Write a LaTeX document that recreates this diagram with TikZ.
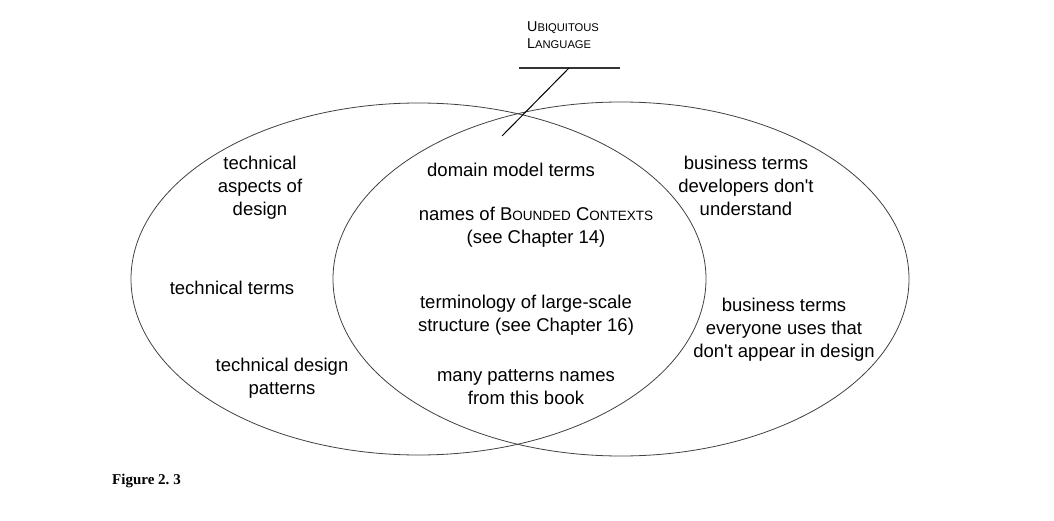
\documentclass[tikz,border=0pt]{standalone}
\usepackage{fontspec}
\setmainfont{Liberation Sans}[Ligatures=TeXOff]
\newfontfamily\figfont{Liberation Serif}
\newcommand{\fsc}[2]{#1{\fontsize{13.5}{16}\selectfont #2}}
\newcommand{\ulsc}[2]{#1{\fontsize{11.2}{13}\selectfont #2}}
\begin{document}
\begin{tikzpicture}[x=1pt,y=-1pt,
  lbl/.style={align=center,inner sep=0pt,font=\fontsize{18.5}{23}\selectfont,text=black},
  ring/.style={draw=black!75,line width=0.8pt},
  bar/.style={draw=black!80,line width=1.3pt},
  pointer/.style={draw=black,line width=1pt}]
\useasboundingbox (0,0) rectangle (1054,521);
\draw[ring] (418.5,279) ellipse [x radius=287.5, y radius=176];
\draw[ring] (621,279) ellipse [x radius=288, y radius=177];
\node[lbl,align=left,anchor=west,font=\fontsize{14.3}{17}\selectfont] (ul) at (527,35)
  {\ulsc{U}{BIQUITOUS}\\\ulsc{L}{ANGUAGE}};
\coordinate (barL) at (519,68);
\coordinate (barR) at (620,68);
\coordinate (barP) at (569,68);
\coordinate (tip) at (502,136);
\draw[bar] (barL) -- (barR);
\draw[pointer] (barP) -- (tip);
\node[lbl] (t1) at (260,188) {technical\\aspects of\\design};
\node[lbl] (t2) at (232,288) {technical terms};
\node[lbl] (t3) at (282,378.5) {technical design\\patterns};
\node[lbl] (m1) at (511,170) {domain model terms};
\node[lbl] (m2) at (536,227.5) {names of \fsc{B}{OUNDED} \fsc{C}{ONTEXTS}\\(see Chapter 14)};
\node[lbl] (m3) at (526,315) {terminology of large-scale\\structure (see Chapter 16)};
\node[lbl] (m4) at (526,387) {many patterns names\\from this book};
\node[lbl] (b1) at (746,186) {business terms\\developers don't\\understand};
\node[lbl] (b2) at (784,329.5) {business terms\\everyone uses that\\don't appear in design};
\node[anchor=west,inner sep=0pt,font=\figfont\bfseries\fontsize{15}{18}\selectfont] (fig) at (112,481) {Figure 2.\hspace{-1pt} 3};
\end{tikzpicture}
\end{document}
